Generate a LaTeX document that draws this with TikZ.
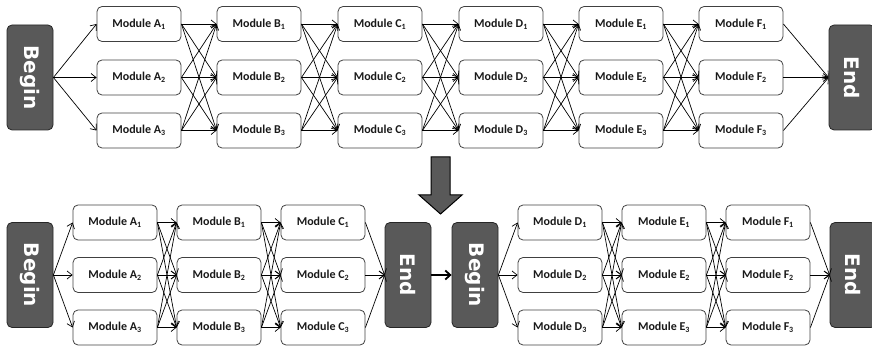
\documentclass[tikz,border=0pt]{standalone}
\usepackage{fontspec}
\usepackage{graphicx}
\setmainfont{Carlito}
\newfontfamily\blockfont{DejaVu Sans}
\usetikzlibrary{arrows.meta}

\begin{document}
\begin{tikzpicture}[x=1pt,y=-1pt,
  module/.style={draw=black!75, rounded corners=5pt, line width=0.8pt,
    minimum width=84pt, minimum height=35pt, inner sep=0pt,
    font=\fontsize{12}{14}\selectfont\bfseries, text=black!90},
  term/.style={draw=black!85, fill=black!65, rounded corners=5pt, line width=0.8pt,
    minimum width=46pt, minimum height=105pt, inner sep=0pt, text=white,
    font=\blockfont\bfseries\fontsize{20}{24}\selectfont},
  link/.style={-{Straight Barb[length=5pt,width=8pt]}, line width=0.7pt},
  handover/.style={-{Straight Barb[length=5pt,width=9pt]}, line width=1.8pt},
  bigarrow/.style={draw=black, fill=black!65, line width=1pt}
]
\useasboundingbox (0,0) rectangle (872,347);

% ---------- single pipeline (top) ----------
\node[term] (tBegin) at (30,77.5) {\rotatebox{-90}{Begin}};
\node[term] (tEnd) at (852,77.5) {\rotatebox{-90}{End}};
\foreach \c/\x in {A/139,B/259,C/380,D/501,E/621,F/741}
  \foreach \r/\y in {1/24,2/77.5,3/130.5}
    \node[module] (t\c\r) at (\x,\y) {Module \c\textsubscript{\r}};

\foreach \i in {1,2,3} {
  \draw[link] (tBegin.east) -- (tA\i.west);
  \draw[link] (tF\i.east) -- (tEnd.west);
}
\foreach \p/\q in {A/B,B/C,C/D,D/E,E/F}
  \foreach \i in {1,2,3}
    \foreach \j in {1,2,3}
      \draw[link] (t\p\i.east) -- (t\q\j.west);

% ---------- transformation arrow ----------
\draw[bigarrow] (431,157) -- (450,157) -- (450,195) -- (462,195)
  -- (440.5,214) -- (419,195) -- (431,195) -- cycle;

% ---------- split pipeline (bottom) ----------
\node[term] (bBegin) at (30,275) {\rotatebox{-90}{Begin}};
\node[term] (bEnd) at (408,275) {\rotatebox{-90}{End}};
\node[term] (bBeginB) at (475,275) {\rotatebox{-90}{Begin}};
\node[term] (bEndB) at (853,275) {\rotatebox{-90}{End}};
\foreach \c/\x in {A/115,B/219,C/323,D/560,E/664,F/768}
  \foreach \r/\y in {1/222.5,2/275,3/327.5}
    \node[module] (b\c\r) at (\x,\y) {Module \c\textsubscript{\r}};

\foreach \i in {1,2,3} {
  \draw[link] (bBegin.east) -- (bA\i.west);
  \draw[link] (bC\i.east) -- (bEnd.west);
  \draw[link] (bBeginB.east) -- (bD\i.west);
  \draw[link] (bF\i.east) -- (bEndB.west);
}
\foreach \p/\q in {A/B,B/C,D/E,E/F}
  \foreach \i in {1,2,3}
    \foreach \j in {1,2,3}
      \draw[link] (b\p\i.east) -- (b\q\j.west);

\draw[handover] (bEnd.east) -- (bBeginB.west);
\end{tikzpicture}
\end{document}
